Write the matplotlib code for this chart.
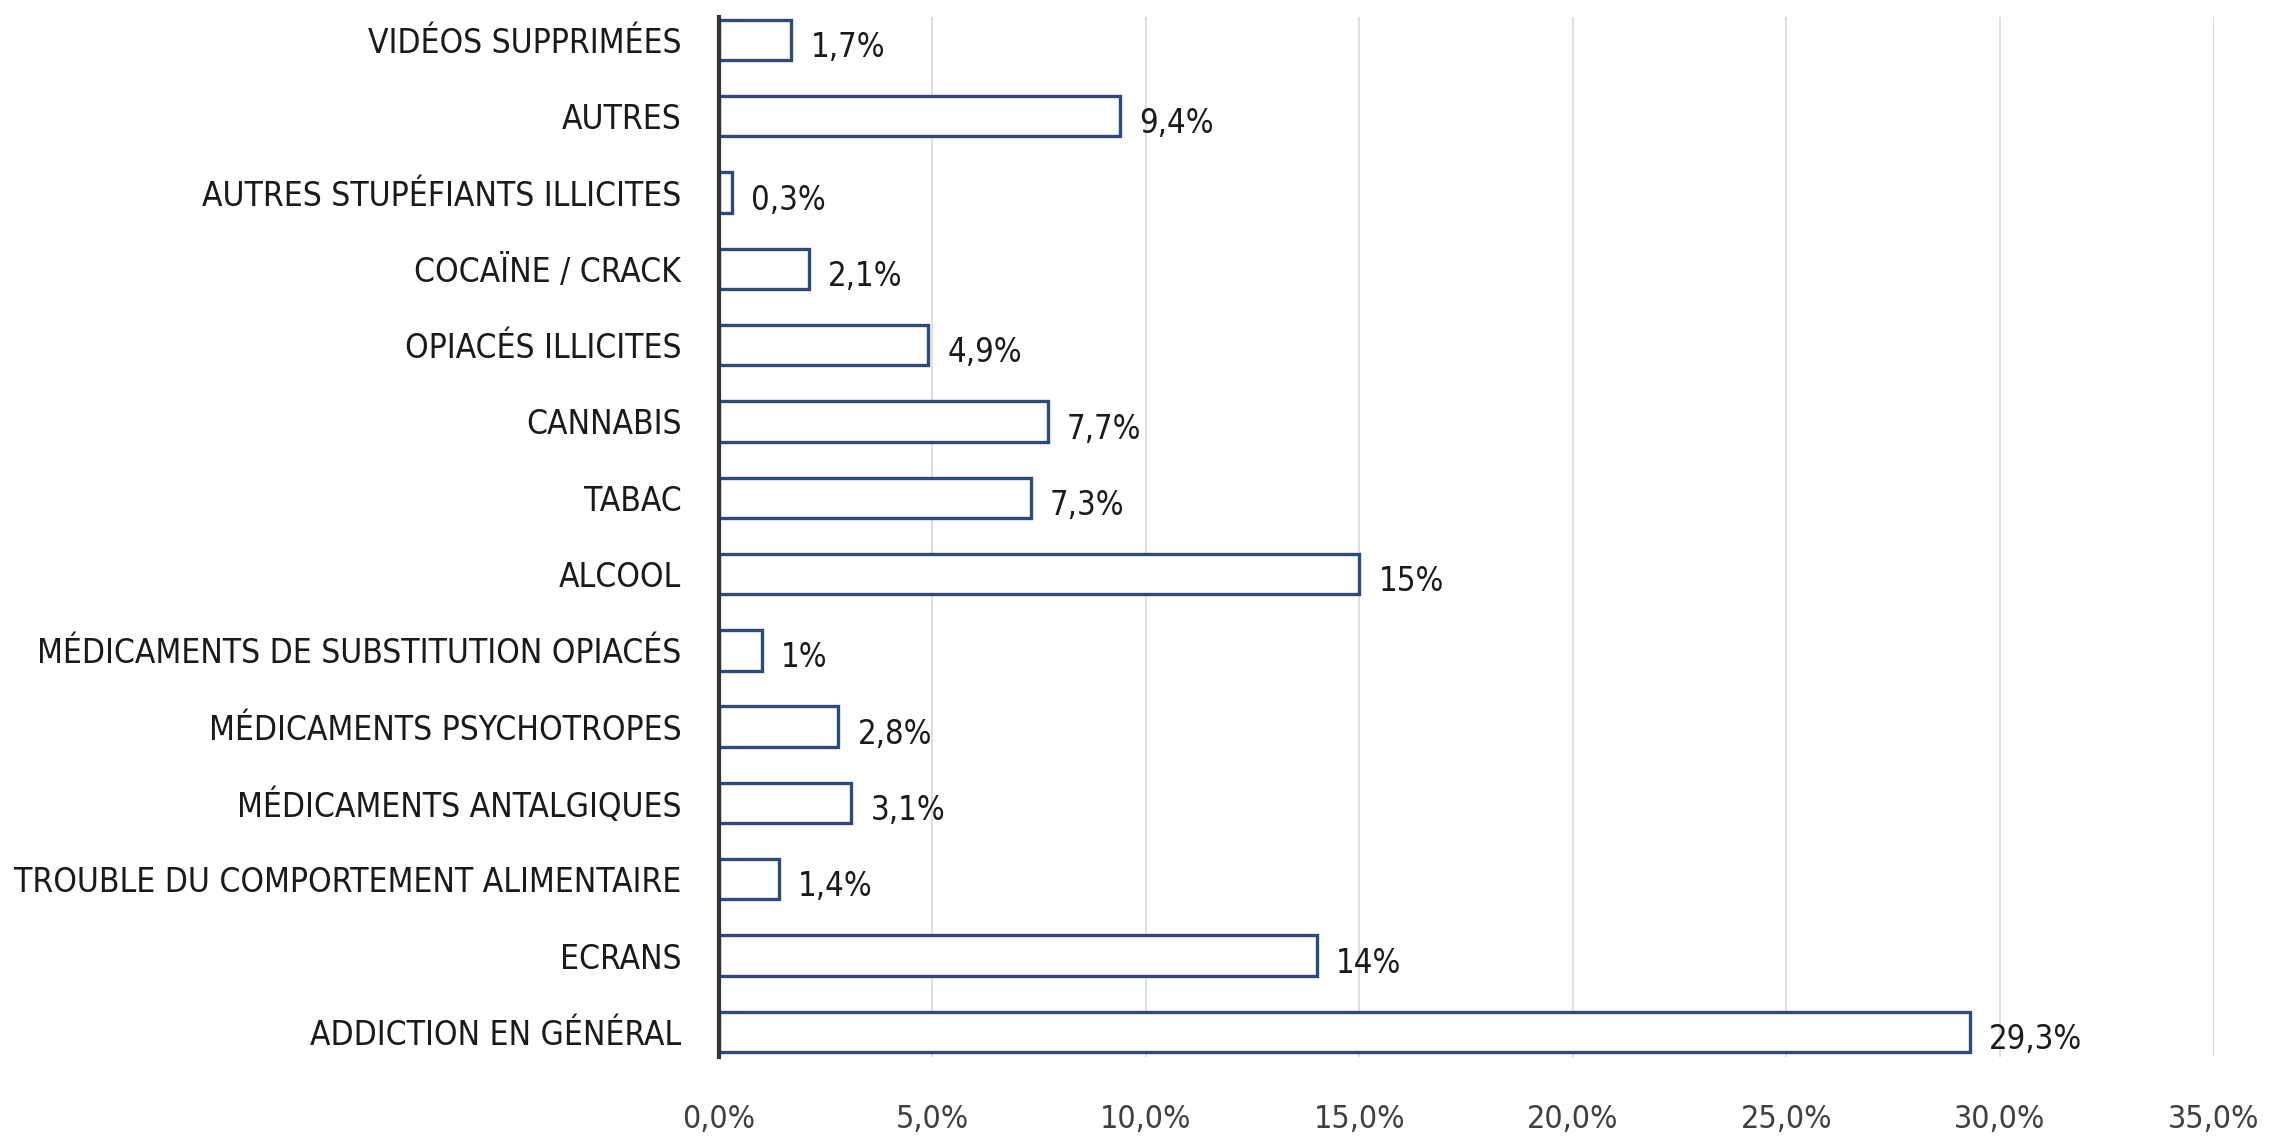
import matplotlib
matplotlib.use('Agg')
import matplotlib.pyplot as plt
from matplotlib.ticker import FuncFormatter

categories = [
    'VIDÉOS SUPPRIMÉES',
    'AUTRES',
    'AUTRES STUPÉFIANTS ILLICITES',
    'COCAÏNE / CRACK',
    'OPIACÉS ILLICITES',
    'CANNABIS',
    'TABAC',
    'ALCOOL',
    'MÉDICAMENTS DE SUBSTITUTION OPIACÉS',
    'MÉDICAMENTS PSYCHOTROPES',
    'MÉDICAMENTS ANTALGIQUES',
    'TROUBLE DU COMPORTEMENT ALIMENTAIRE',
    'ECRANS',
    'ADDICTION EN GÉNÉRAL',
]
values = [1.7, 9.4, 0.3, 2.1, 4.9, 7.7, 7.3, 15.0, 1.0, 2.8, 3.1, 1.4, 14.0, 29.3]
value_labels = ['1,7%', '9,4%', '0,3%', '2,1%', '4,9%', '7,7%', '7,3%', '15%',
                '1%', '2,8%', '3,1%', '1,4%', '14%', '29,3%']
x_ticks = [0, 5, 10, 15, 20, 25, 30, 35]

plt.rcParams['font.family'] = ['DejaVu Sans']
plt.rcParams['font.stretch'] = 'condensed'

fig = plt.figure(figsize=(22.82, 11.39), dpi=100)
ax = fig.add_axes([0.315, 0.072, 0.655, 0.913])

ypos = list(range(len(categories)))
ax.barh(ypos, values, height=0.53, color='white', edgecolor='#2f4a78', linewidth=2.4, zorder=3)

for y, v, lab in zip(ypos, values, value_labels):
    ax.text(v + 0.45, y + 0.1, lab, va='center', ha='left', fontsize=23.5, color='#1a1a1a')

ax.set_xlim(0, 35)
ax.set_ylim(13.33, -0.3)
ax.set_xticks(x_ticks)
ax.xaxis.set_major_formatter(FuncFormatter(lambda x, p: ('%.1f%%' % x).replace('.', ',')))
ax.set_yticks(ypos)
ax.set_yticklabels(categories)

ax.grid(axis='x', color='#d9d9d9', linewidth=1.2, zorder=0)
ax.set_axisbelow(True)
for s in ['top', 'right', 'bottom']:
    ax.spines[s].set_visible(False)
ax.spines['left'].set_linewidth(3)
ax.spines['left'].set_color('#333333')
ax.spines['left'].set_zorder(4)

ax.tick_params(axis='y', length=0, pad=27, labelsize=24, labelcolor='#1a1a1a')
ax.tick_params(axis='x', length=0, pad=34, labelsize=23, labelcolor='#404040')

fig.savefig('out.png', dpi=100, facecolor='white')
